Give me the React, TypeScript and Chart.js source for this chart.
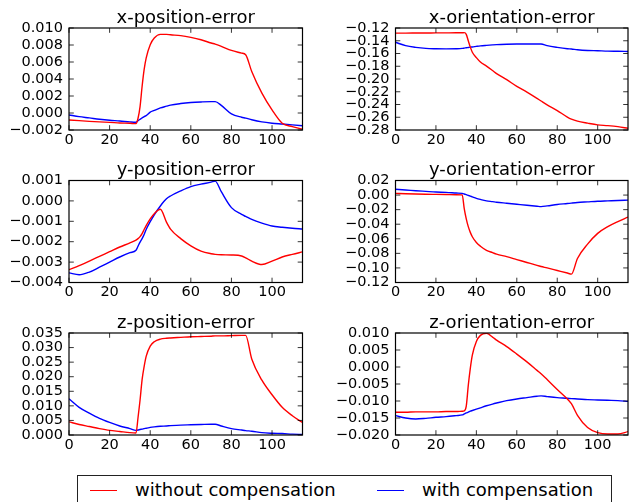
import React, { useEffect, useRef } from "react";
import { Chart, registerables } from "chart.js";

Chart.register(...registerables);

// ---------- data ----------
const xs = [0, 5, 10, 15, 20, 25, 30, 33, 34, 35, 36, 37, 38, 40, 42, 45, 48, 50, 55, 60, 65, 70, 72, 75, 80, 85, 87, 90, 95, 100, 105, 110, 115];
const xTicks = [0, 20, 40, 60, 80, 100];

const xPosRed = [-0.00082, -0.0009, -0.00098, -0.00105, -0.0011, -0.00117, -0.00121, -0.00125, -0.00062, 0.00076, 0.00312, 0.0051, 0.00646, 0.00803, 0.00882, 0.00925, 0.00925, 0.0092, 0.0091, 0.0089, 0.00862, 0.00823, 0.0081, 0.00784, 0.00736, 0.00705, 0.00685, 0.00488, 0.00233, 0.00036, -0.0012, -0.00161, -0.00189];
const xPosBlue = [-0.00023, -0.00043, -0.00058, -0.00074, -0.00086, -0.00094, -0.00105, -0.00109, -0.0009, -0.00074, -0.00058, -0.00043, -0.00031, 0.0001, 0.0003, 0.0006, 0.0008, 0.00093, 0.00111, 0.00123, 0.0013, 0.00134, 0.00134, 0.0009, -0.0001, -0.0005, -0.0006, -0.0008, -0.00105, -0.0012, -0.0013, -0.0014, -0.0015];
const xPosTicks = [-0.002, 0.0, 0.002, 0.004, 0.006, 0.008, 0.01];

const xOriRed = [-0.128, -0.128, -0.1279, -0.1278, -0.1277, -0.1276, -0.1275, -0.1274, -0.1273, -0.13, -0.14, -0.15, -0.158, -0.1664, -0.1733, -0.1797, -0.1867, -0.1915, -0.2011, -0.2115, -0.2205, -0.2304, -0.2345, -0.2405, -0.2495, -0.2597, -0.2629, -0.2661, -0.2693, -0.272, -0.2731, -0.2747, -0.2773];
const xOriBlue = [-0.1424, -0.1477, -0.1504, -0.152, -0.1525, -0.1527, -0.1525, -0.152, -0.1515, -0.151, -0.1505, -0.15, -0.1497, -0.1488, -0.148, -0.1472, -0.1465, -0.1461, -0.1455, -0.1451, -0.145, -0.145, -0.1452, -0.1477, -0.1504, -0.1525, -0.153, -0.1541, -0.1552, -0.1557, -0.1563, -0.1565, -0.1568];
const xOriTicks = [-0.28, -0.26, -0.24, -0.22, -0.2, -0.18, -0.16, -0.14, -0.12];

const yPosRed = [-0.00337, -0.00317, -0.00295, -0.00272, -0.00249, -0.00226, -0.00206, -0.00192, -0.00185, -0.00175, -0.0016, -0.0014, -0.00121, -0.00088, -0.00063, -0.00041, -0.00104, -0.00138, -0.00185, -0.0022, -0.00246, -0.00259, -0.00262, -0.00264, -0.00265, -0.0027, -0.00279, -0.00295, -0.00312, -0.00295, -0.00275, -0.00262, -0.0025];
const yPosBlue = [-0.00353, -0.00362, -0.00349, -0.00325, -0.003, -0.00275, -0.00254, -0.00242, -0.00222, -0.00202, -0.00185, -0.00165, -0.0014, -0.00102, -0.00068, -0.00025, 0.0001, 0.00024, 0.00049, 0.0007, 0.00082, 0.00092, 0.00097, 0.00045, -0.00033, -0.00066, -0.00076, -0.00091, -0.00109, -0.00123, -0.00129, -0.00134, -0.00138];
const yPosTicks = [-0.004, -0.003, -0.002, -0.001, 0.0, 0.001];

const yOriRed = [0.0023, 0.0018, 0.0014, 0.0011, 0.0009, 0.0007, 0.0005, 0.0002, -0.0186, -0.0326, -0.0433, -0.0512, -0.0572, -0.0651, -0.0702, -0.0758, -0.079, -0.081, -0.0845, -0.0885, -0.0925, -0.0965, -0.098, -0.1, -0.1035, -0.107, -0.1085, -0.087, -0.0674, -0.0526, -0.0433, -0.0363, -0.0302];
const yOriBlue = [0.0079, 0.007, 0.006, 0.0051, 0.0042, 0.0037, 0.0028, 0.0023, 0.0015, 0.0005, -0.0005, -0.0015, -0.0025, -0.0045, -0.006, -0.0079, -0.009, -0.0098, -0.0112, -0.0126, -0.014, -0.0153, -0.0158, -0.0149, -0.013, -0.0116, -0.011, -0.0102, -0.0093, -0.0084, -0.0079, -0.0074, -0.007];
const yOriTicks = [-0.12, -0.1, -0.08, -0.06, -0.04, -0.02, 0.0, 0.02];

const zPosRed = [0.0045, 0.0036, 0.0029, 0.0022, 0.0016, 0.0012, 0.0008, 0.0007, 0.006, 0.012, 0.019, 0.0235, 0.027, 0.0305, 0.032, 0.0329, 0.0332, 0.0333, 0.0335, 0.0337, 0.0338, 0.0339, 0.034, 0.034, 0.0341, 0.0342, 0.0342, 0.0261, 0.0188, 0.0138, 0.0095, 0.0066, 0.0043];
const zPosBlue = [0.0124, 0.0095, 0.0075, 0.0057, 0.0043, 0.0031, 0.0022, 0.0016, 0.0017, 0.0019, 0.002, 0.0022, 0.0023, 0.0026, 0.0028, 0.003, 0.0031, 0.0032, 0.0034, 0.0035, 0.0036, 0.0037, 0.0037, 0.0031, 0.0022, 0.0017, 0.0015, 0.0013, 0.0008, 0.0006, 0.0005, 0.0003, 0.0002];
const zPosTicks = [0.0, 0.005, 0.01, 0.015, 0.02, 0.025, 0.03, 0.035];

const zOriRed = [-0.0133, -0.0133, -0.0132, -0.0132, -0.0132, -0.0131, -0.0131, -0.013, -0.0129, -0.0115, -0.0054, -0.0004, 0.0035, 0.0075, 0.0093, 0.0099, 0.0088, 0.0079, 0.006, 0.0038, 0.0015, -0.001, -0.002, -0.0037, -0.0066, -0.0094, -0.0108, -0.0142, -0.0178, -0.0193, -0.0197, -0.0197, -0.019];
const zOriBlue = [-0.0143, -0.015, -0.0153, -0.0151, -0.0148, -0.0146, -0.0143, -0.0141, -0.0138, -0.0135, -0.0133, -0.013, -0.0128, -0.0124, -0.012, -0.0114, -0.0109, -0.0106, -0.0099, -0.0094, -0.009, -0.0086, -0.0085, -0.0087, -0.009, -0.0092, -0.0093, -0.0094, -0.0096, -0.0097, -0.0098, -0.0099, -0.0101];
const zOriTicks = [-0.02, -0.015, -0.01, -0.005, 0.0, 0.005, 0.01];

const seriesNames = ["without compensation", "with compensation"];
const seriesColors = ["#ff0000", "#0000ff"];

// ---------- layout ----------
const FONT = '"DejaVu Sans", "Liberation Sans", sans-serif';
const CANVAS_W = 310;
const CANVAS_H = 152;
const PLOT_H = 102;

type Sub = {
  title: string;
  red: number[];
  blue: number[];
  ticks: number[];
  decimals: number;
  left: number;
  top: number;
  yW: number;
  padTop: number;
  plotW: number;
};

const subs: Sub[] = [
  { title: "x-position-error", red: xPosRed, blue: xPosBlue, ticks: xPosTicks, decimals: 3, left: 0, top: 0, yW: 69, padTop: 28, plotW: 233.5 },
  { title: "x-orientation-error", red: xOriRed, blue: xOriBlue, ticks: xOriTicks, decimals: 2, left: 326, top: 0, yW: 69.5, padTop: 28, plotW: 232.5 },
  { title: "y-position-error", red: yPosRed, blue: yPosBlue, ticks: yPosTicks, decimals: 3, left: 0, top: 152, yW: 69, padTop: 28.5, plotW: 233.5 },
  { title: "y-orientation-error", red: yOriRed, blue: yOriBlue, ticks: yOriTicks, decimals: 2, left: 326, top: 152, yW: 69.5, padTop: 28.5, plotW: 232.5 },
  { title: "z-position-error", red: zPosRed, blue: zPosBlue, ticks: zPosTicks, decimals: 3, left: 0, top: 304, yW: 69, padTop: 29, plotW: 233.5 },
  { title: "z-orientation-error", red: zOriRed, blue: zOriBlue, ticks: zOriTicks, decimals: 3, left: 326, top: 304, yW: 69.5, padTop: 29, plotW: 232.5 },
];

function fmt(v: number, d: number) {
  const s = v.toFixed(d);
  return s.replace("-", "\u2212");
}

function SubPlot({ s }: { s: Sub }) {
  const ref = useRef<HTMLCanvasElement | null>(null);
  useEffect(() => {
    if (!ref.current) return;
    const frame = {
      id: "frame" + s.title,
      afterDatasetsDraw(chart: any) {
        const { ctx, chartArea: a, scales } = chart;
        ctx.save();
        ctx.strokeStyle = "#000";
        ctx.lineWidth = 0.8;
        const tl = 4.8;
        ctx.beginPath();
        for (const t of scales.x.ticks) {
          const px = scales.x.getPixelForValue(t.value);
          ctx.moveTo(px, a.bottom);
          ctx.lineTo(px, a.bottom - tl);
          ctx.moveTo(px, a.top);
          ctx.lineTo(px, a.top + tl);
        }
        for (const t of scales.y.ticks) {
          const py = scales.y.getPixelForValue(t.value);
          ctx.moveTo(a.left, py);
          ctx.lineTo(a.left + tl, py);
          ctx.moveTo(a.right, py);
          ctx.lineTo(a.right - tl, py);
        }
        ctx.stroke();
        ctx.lineWidth = 1.2;
        ctx.strokeRect(a.left, a.top, a.right - a.left, a.bottom - a.top);
        ctx.fillStyle = "#000";
        ctx.font = "18px " + FONT;
        ctx.textAlign = "center";
        ctx.textBaseline = "alphabetic";
        ctx.fillText(s.title, (a.left + a.right) / 2, a.top - 5.5);
        ctx.restore();
      },
    };
    const padRight = CANVAS_W - s.yW - s.plotW;
    const xH = CANVAS_H - s.padTop - PLOT_H;
    const mk = (vals: number[], i: number) => ({
      label: seriesNames[i],
      data: xs.map((x, k) => ({ x, y: vals[k] })),
      borderColor: seriesColors[i],
      borderWidth: 1.4,
      pointRadius: 0,
      fill: false,
      cubicInterpolationMode: "monotone" as const,
    });
    const chart = new Chart(ref.current, {
      type: "line",
      data: { datasets: [mk(s.red, 0), mk(s.blue, 1)] },
      options: {
        animation: false,
        responsive: false,
        devicePixelRatio: 1,
        layout: { padding: { top: s.padTop, left: 0, right: padRight, bottom: 0 } },
        plugins: { legend: { display: false }, tooltip: { enabled: false }, title: { display: false } },
        scales: {
          x: {
            type: "linear",
            min: 0,
            max: 115,
            grid: { display: false, drawTicks: false },
            border: { display: false },
            ticks: { font: { family: FONT, size: 14.5 }, color: "#000", padding: 1.5, maxRotation: 0, autoSkip: false },
            afterBuildTicks: (scale: any) => {
              scale.ticks = xTicks.map((v) => ({ value: v }));
            },
            afterFit: (scale: any) => {
              scale.height = xH;
            },
          },
          y: {
            type: "linear",
            min: s.ticks[0],
            max: s.ticks[s.ticks.length - 1],
            grid: { display: false, drawTicks: false },
            border: { display: false },
            ticks: {
              font: { family: FONT, size: 14.5 },
              color: "#000",
              padding: 6,
              autoSkip: false,
              callback: (v: any) => fmt(Number(v), s.decimals),
            },
            afterBuildTicks: (scale: any) => {
              scale.ticks = s.ticks.map((v) => ({ value: v }));
            },
            afterFit: (scale: any) => {
              scale.width = s.yW;
            },
          },
        },
      },
      plugins: [frame],
    });
    return () => chart.destroy();
  }, [s]);
  return (
    <canvas
      ref={ref}
      width={CANVAS_W}
      height={CANVAS_H}
      style={{ position: "absolute", left: s.left, top: s.top, width: CANVAS_W, height: CANVAS_H }}
    />
  );
}

export default function App() {
  return (
    <div
      style={{
        position: "absolute",
        left: 0,
        top: 0,
        width: 633,
        height: 502,
        overflow: "hidden",
        background: "#fff",
        fontFamily: FONT,
      }}
    >
      {subs.map((s) => (
        <SubPlot key={s.title} s={s} />
      ))}
      <div
        style={{
          position: "absolute",
          left: 77,
          top: 475,
          width: 535,
          height: 44,
          border: "1px solid #222",
          boxSizing: "border-box",
          background: "#fff",
        }}
      >
        <div style={{ position: "absolute", left: 12, top: 14, width: 27, height: 1.4, background: seriesColors[0] }} />
        <div style={{ position: "absolute", left: 57, top: 3, fontSize: 18, lineHeight: "22px", color: "#000", whiteSpace: "nowrap" }}>
          {seriesNames[0]}
        </div>
        <div style={{ position: "absolute", left: 299, top: 14, width: 27, height: 1.4, background: seriesColors[1] }} />
        <div style={{ position: "absolute", left: 344, top: 3, fontSize: 18, lineHeight: "22px", color: "#000", whiteSpace: "nowrap" }}>
          {seriesNames[1]}
        </div>
      </div>
    </div>
  );
}
